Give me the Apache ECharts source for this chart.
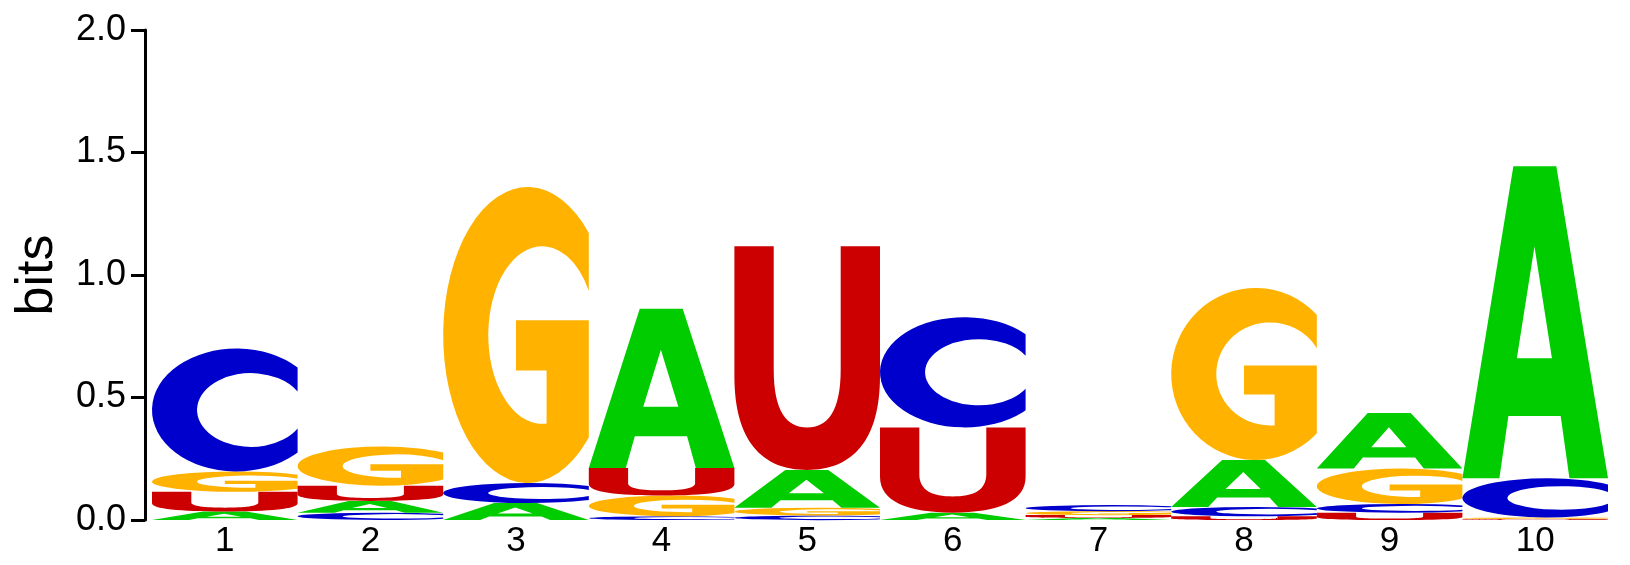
<!DOCTYPE html>
<html>
<head>
<meta charset="utf-8">
<script src="https://cdn.jsdelivr.net/npm/echarts@6/dist/echarts.min.js"></script>
<style>
  html, body { margin: 0; padding: 0; background: #fff; }
  #logo { width: 1630px; height: 565px; }
</style>
</head>
<body>
<div id="logo"></div>
<script>
// positions along the motif
var positions = ['1', '2', '3', '4', '5', '6', '7', '8', '9', '10'];

// letter heights (bits) per position
var bitsA = [0.035, 0.048, 0.069, 0.650, 0.154, 0.030, 0.008, 0.192, 0.227, 1.274];
var bitsC = [0.502, 0.030, 0.082, 0.015, 0.018, 0.450, 0.024, 0.038, 0.035, 0.160];
var bitsG = [0.083, 0.160, 1.208, 0.085, 0.032, 0.000, 0.016, 0.702, 0.145, 0.006];
var bitsU = [0.080, 0.062, 0.000, 0.112, 0.913, 0.348, 0.012, 0.015, 0.030, 0.004];

var yTicks = [0, 0.5, 1.0, 1.5, 2.0];

var letters = ['A', 'C', 'G', 'U'];
var heights = { A: bitsA, C: bitsC, G: bitsG, U: bitsU };
var colors = { A: '#00cc00', C: '#0000cc', G: '#ffb300', U: '#cc0000' };

// glyph outlines in a 100x100 box, stretched to each letter's cell
var glyphs = {
    A: 'M0,100 L35,0 L64.5,0 L100,100 L73.5,100 L67.5,80 L31.6,80 L25.4,100 Z M49.5,25.7 L37.4,61.5 L61.5,61.5 Z',
    C: 'M100,15.5 A58,50 0 1 0 100,84.5 L100,65 A37,30 0 1 1 100,35 Z',
    G: 'M100,15.5 A58,50 0 1 0 100,84.5 L100,45 L50,45 L50,62 L71,62 L71,79.9 A37,30 0 1 1 100,35 Z',
    U: 'M0,0 L27,0 L27,55 C27,74 36,81 50,81 C64,81 73,74 73,55 L73,0 L100,0 L100,58 C100,87 81,100 50,100 C19,100 0,87 0,58 Z'
};

var totals = positions.map(function (p, i) {
    return [i, bitsA[i] + bitsC[i] + bitsG[i] + bitsU[i]];
});

function renderColumn(params, api) {
    var i = params.dataIndex;
    var w = api.size([1, 0])[0];
    var xc = api.coord([i, 0])[0];
    // smallest letter at the bottom
    var stack = letters.map(function (l) {
        return { l: l, h: heights[l][i] };
    }).filter(function (s) { return s.h > 0; })
      .sort(function (a, b) { return a.h - b.h; });

    var base = 0;
    var children = [];
    stack.forEach(function (s) {
        var top = api.coord([i, base + s.h]);
        var bot = api.coord([i, base]);
        children.push({
            type: 'path',
            shape: {
                pathData: glyphs[s.l],
                x: xc - w / 2,
                y: top[1],
                width: w,
                height: bot[1] - top[1],
                layout: 'cover'
            },
            style: { fill: colors[s.l] }
        });
        base += s.h;
    });
    return { type: 'group', children: children };
}

var chart = echarts.init(document.getElementById('logo'));
chart.setOption({
    animation: false,
    backgroundColor: '#fff',
    textStyle: { fontFamily: 'Liberation Sans' },
    grid: { left: 152, right: 22, top: 30, bottom: 45 },
    xAxis: {
        type: 'category',
        data: positions,
        boundaryGap: true,
        axisLine: { show: false },
        axisTick: { show: false },
        axisLabel: { color: '#000', fontSize: 35, margin: 4, fontFamily: 'Liberation Sans' }
    },
    yAxis: {
        type: 'value',
        min: yTicks[0],
        max: yTicks[yTicks.length - 1],
        interval: 0.5,
        offset: 7,
        name: 'bits',
        nameLocation: 'middle',
        nameRotate: 90,
        nameGap: 81,
        nameTextStyle: { color: '#000', fontSize: 52, fontFamily: 'Liberation Sans' },
        axisLine: { show: true, lineStyle: { color: '#000', width: 3 } },
        axisTick: { show: true, length: 14, lineStyle: { color: '#000', width: 3 } },
        axisLabel: {
            color: '#000',
            fontSize: 36,
            margin: 19,
            fontFamily: 'Liberation Sans',
            formatter: function (v) { return v.toFixed(1); }
        },
        splitLine: { show: false }
    },
    series: [{
        type: 'custom',
        renderItem: renderColumn,
        encode: { x: 0, y: 1 },
        data: totals
    }]
});
</script>
</body>
</html>
